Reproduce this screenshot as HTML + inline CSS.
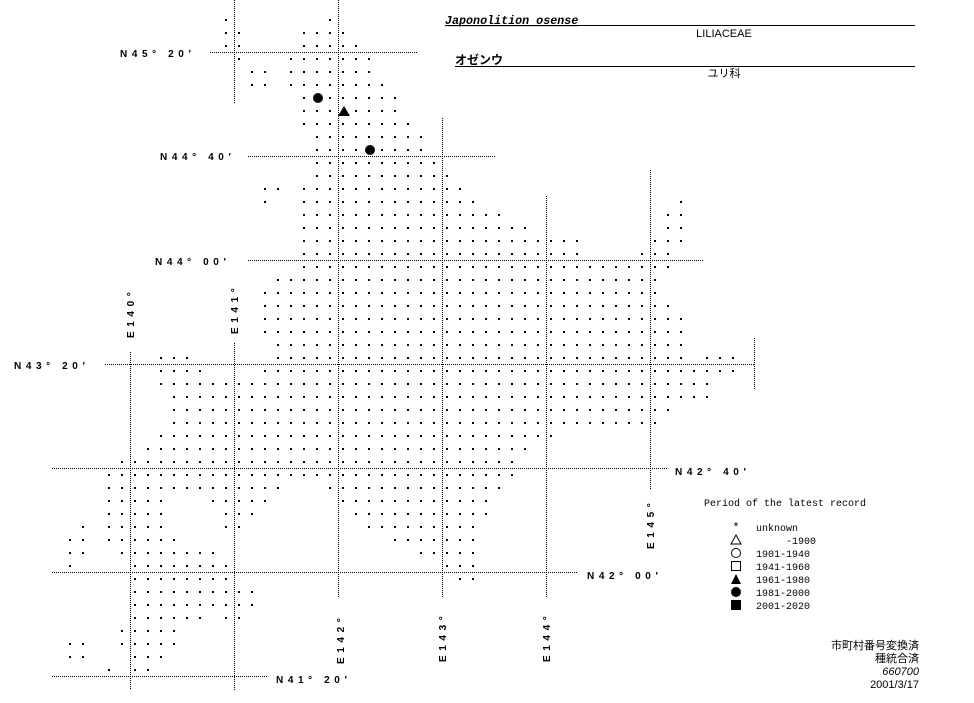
<!DOCTYPE html>
<html><head><meta charset="utf-8">
<style>
html,body{margin:0;padding:0;background:#fff;}
body{width:974px;height:703px;position:relative;overflow:hidden;}
svg{position:absolute;left:0;top:0;}
.lab{font-family:"Liberation Sans",sans-serif;font-weight:bold;font-size:10px;letter-spacing:4.6px;fill:#000;}
.leg{font-family:"Liberation Mono",monospace;font-size:10px;fill:#000;}
.jp{font-family:"Liberation Sans","Noto Sans CJK JP",sans-serif;font-size:11px;fill:#000;}
</style></head><body>
<svg id="s" width="974" height="703" viewBox="0 0 974 703" xmlns="http://www.w3.org/2000/svg">
<g stroke="#000" stroke-width="1" stroke-dasharray="1 1" fill="none" shape-rendering="crispEdges">
<line x1="210" y1="52.5" x2="417" y2="52.5"/>
<line x1="248" y1="156.5" x2="495" y2="156.5"/>
<line x1="248" y1="260.5" x2="703" y2="260.5"/>
<line x1="105" y1="364.5" x2="755" y2="364.5"/>
<line x1="52" y1="468.5" x2="667" y2="468.5"/>
<line x1="52" y1="572.5" x2="578" y2="572.5"/>
<line x1="52" y1="676.5" x2="268" y2="676.5"/>
<line x1="234.5" y1="0" x2="234.5" y2="104"/>
<line x1="338.5" y1="0" x2="338.5" y2="598"/>
<line x1="442.5" y1="118" x2="442.5" y2="598"/>
<line x1="546.5" y1="196" x2="546.5" y2="598"/>
<line x1="650.5" y1="170" x2="650.5" y2="490"/>
<line x1="754.5" y1="338" x2="754.5" y2="390"/>
<line x1="130.5" y1="352" x2="130.5" y2="690"/>
<line x1="234.5" y1="343" x2="234.5" y2="690"/>
</g>
<g id="dots" fill="#000" shape-rendering="crispEdges"></g>
<circle cx="318" cy="98" r="5" fill="#000"/>
<polygon points="344,106 350,116 338,116" fill="#000"/>
<circle cx="370" cy="150" r="5" fill="#000"/>

<text class="lab" x="120" y="57">N45° 20′</text>
<text class="lab" x="160" y="160">N44° 40′</text>
<text class="lab" x="155" y="265">N44° 00′</text>
<text class="lab" x="14" y="369">N43° 20′</text>
<text class="lab" x="675" y="475">N42° 40′</text>
<text class="lab" x="587" y="579">N42° 00′</text>
<text class="lab" x="276" y="683">N41° 20′</text>
<text class="lab" transform="translate(134,338) rotate(-90)">E140°</text>
<text class="lab" transform="translate(238,334) rotate(-90)">E141°</text>
<text class="lab" transform="translate(344,664) rotate(-90)">E142°</text>
<text class="lab" transform="translate(446,662) rotate(-90)">E143°</text>
<text class="lab" transform="translate(550,662) rotate(-90)">E144°</text>
<text class="lab" transform="translate(654,549) rotate(-90)">E145°</text>

<text x="445" y="24" style="font-family:'Liberation Mono',monospace;font-weight:bold;font-style:italic;font-size:11.7px;text-decoration:underline">Japonolition osense</text>
<line x1="445" y1="25.5" x2="915" y2="25.5" stroke="#000" stroke-width="1"/>
<text class="jp" x="724" y="37" text-anchor="middle" style="font-size:11px">LILIACEAE</text>
<text x="455" y="64" style="font-family:'Liberation Sans','Noto Sans CJK JP',sans-serif;font-weight:bold;font-size:12px">オゼンウ</text>
<line x1="455" y1="66.5" x2="915" y2="66.5" stroke="#000" stroke-width="1"/>
<text class="jp" x="724" y="77" text-anchor="middle">ユリ科</text>

<text class="leg" x="704" y="506">Period of the latest record</text>
<text class="leg" x="736" y="531" text-anchor="middle" style="font-size:12px">*</text>
<polygon points="736,535 741,544 731,544" fill="none" stroke="#000"/>
<circle cx="736" cy="553" r="4.5" fill="none" stroke="#000"/>
<rect x="731.5" y="561.5" width="9" height="9" fill="none" stroke="#000"/>
<polygon points="736,574 741,584 731,584" fill="#000"/>
<circle cx="736" cy="592" r="5" fill="#000"/>
<rect x="731" y="600" width="10" height="10" fill="#000"/>
<text class="leg" x="756" y="531">unknown</text>
<text class="leg" x="756" y="544" xml:space="preserve">     -1900</text>
<text class="leg" x="756" y="557">1901-1940</text>
<text class="leg" x="756" y="570">1941-1960</text>
<text class="leg" x="756" y="583">1961-1980</text>
<text class="leg" x="756" y="596">1981-2000</text>
<text class="leg" x="756" y="609">2001-2020</text>

<text class="jp" x="919" y="649" text-anchor="end">市町村番号変換済</text>
<text class="jp" x="919" y="662" text-anchor="end">種統合済</text>
<text class="jp" x="919" y="675" text-anchor="end" style="font-style:italic">660700</text>
<text class="jp" x="919" y="688" text-anchor="end">2001/3/17</text>
</svg>
<script>
var R=[
"-6;2","-6,-5;0:3","-6,-5;0:4","-5;-1:5","-4,-3;-1:5","-4,-3;-1:6",
"0;2:7","0:2;4:7","0:8","1:9","1:4;6:9","1:10","1:11","-3,-2;0:12",
"-3;0:13;29","0:15;28,29","0:17;28,29","0:21;27:29","0:21;26:28","0:28",
"-2:27","-3:27","-3:28","-3:29","-3:29","-2:29","-11:-9;-2:29;31:33",
"-11:-8;-3:33","-11:31","-10:31","-10:28","-10:27","-11:19","-12:17",
"-14:16","-15:16","-15:-2;2:15","-15:-11;-7:-3;3:14","-15:-11;-6:-4;4:14",
"-17;-15:-11;-6,-5;5:13","-18,-17;-15:-10;7:13","-18,-17;-14:-7;9:13",
"-18;-13:-6;11:13","-13:-6;12,13","-13:-4","-13:-4","-13:-8;-6,-5",
"-14:-10","-18,-17;-14:-10","-18,-17;-13:-11","-15;-13,-12"];
var g=document.getElementById("dots"),ns="http://www.w3.org/2000/svg";
R.forEach(function(s,r){
 s.split(";").forEach(function(p){
  p.split(",").forEach(function(q){
   var a,b;
   var m=q.match(/^(-?\d+):(-?\d+)$/);
   if(m){a=+m[1];b=+m[2];}else{a=b=+q;}
   for(var c=a;c<=b;c++){
    var e=document.createElementNS(ns,"rect");
    e.setAttribute("x",304+13*c-1);e.setAttribute("y",20+13*r-1);
    e.setAttribute("width",2);e.setAttribute("height",2);
    g.appendChild(e);
   }
  });
 });
});
</script>
</body></html>
